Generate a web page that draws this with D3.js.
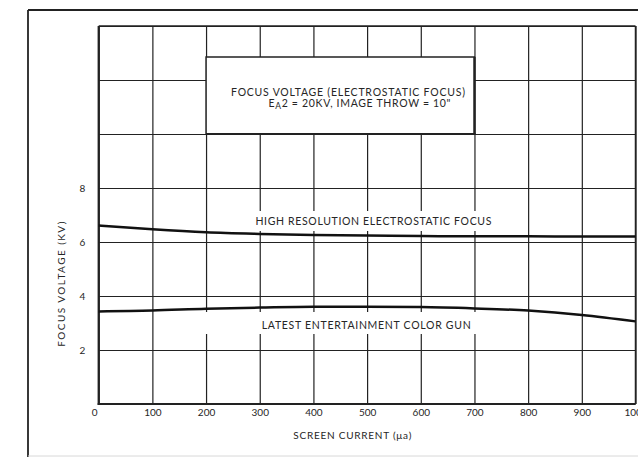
<!DOCTYPE html>
<html><head><meta charset="utf-8">
<script src="https://cdn.jsdelivr.net/npm/d3@7"></script>
<style>
body{margin:0;background:#fff}
svg{display:block}
text{font-family:Lato,"Open Sans",sans-serif;fill:#262626}
</style>
</head><body>
<svg id="c" width="638" height="457"></svg>
<script>
// ---- data ----
const screenCurrent = [0,100,200,300,400,500,600,700,800,900,1000];
const highResFocus  = [6.61,6.47,6.36,6.30,6.26,6.24,6.22,6.21,6.21,6.20,6.20];
const colorGunFocus = [3.43,3.46,3.53,3.57,3.60,3.60,3.59,3.54,3.46,3.30,3.06];
const xTicks = [0,100,200,300,400,500,600,700,800,900,1000];
const yTicks = [0,2,4,6,8,10,12,14];
const yTickLabels = [2,4,6,8];
const titleLine1 = "FOCUS VOLTAGE (ELECTROSTATIC FOCUS)";
const titleLine2a = "E", titleLine2sub = "A", titleLine2b = "2 = 20KV,  IMAGE THROW = 10\"";
const highResLabel = "HIGH RESOLUTION ELECTROSTATIC FOCUS";
const colorGunLabel = "LATEST ENTERTAINMENT COLOR GUN";
const xAxisTitle = "SCREEN CURRENT (\u03bca)";
const yAxisTitle = "FOCUS VOLTAGE (KV)";

// ---- layout ----
const svg = d3.select("#c");
const L = 98.7, R = 635.5, T = 26, B = 404;
const x = d3.scaleLinear().domain([0,1000]).range([L,R]);
const y = d3.scaleLinear().domain([0,14]).range([B,T]);
const ink = "#222";
const FONT = "Lato,'Open Sans',sans-serif";

// outer frame
svg.append("line").attr("x1",28).attr("y1",10).attr("x2",638).attr("y2",10)
  .attr("stroke",ink).attr("stroke-width",1.8);
svg.append("line").attr("x1",28).attr("y1",10).attr("x2",28).attr("y2",457)
  .attr("stroke",ink).attr("stroke-width",1.8);
svg.append("line").attr("x1",28).attr("y1",456).attr("x2",638).attr("y2",456)
  .attr("stroke","#d8d8d8").attr("stroke-width",1);

// grid + tick labels via axes
const xAxis = d3.axisBottom(x).tickValues(xTicks).tickSize(-(B-T)).tickPadding(5)
  .tickFormat(d3.format("d"));
const gx = svg.append("g").attr("transform",`translate(0,${B})`).call(xAxis);
gx.select(".domain").remove();
gx.selectAll("line").attr("stroke",ink).attr("stroke-width",1.2);
gx.selectAll("text").attr("font-size",10).attr("fill","#262626").attr("font-family",FONT);
gx.selectAll("text").filter(d=>d===0).attr("dx",-4.5);

const yAxis = d3.axisLeft(y).tickValues(yTicks).tickSize(-(R-L)).tickPadding(13.5)
  .tickFormat(d => yTickLabels.includes(d) ? d : "");
const gy = svg.append("g").attr("transform",`translate(${L},0)`).call(yAxis);
gy.select(".domain").remove();
gy.selectAll("line").attr("stroke",ink).attr("stroke-width",1.2);
gy.selectAll("text").attr("font-size",10).attr("fill","#262626").attr("font-family",FONT);

// gaps in grid behind curve labels
svg.append("rect").attr("x",250).attr("y",211).attr("width",245).attr("height",20).attr("fill","#fff");
svg.append("rect").attr("x",200).attr("y",312).attr("width",282).attr("height",22).attr("fill","#fff");

// plot frame
svg.append("line").attr("x1",L).attr("y1",T).attr("x2",R).attr("y2",T).attr("stroke",ink).attr("stroke-width",1.5);
svg.append("line").attr("x1",R).attr("y1",T).attr("x2",R).attr("y2",B).attr("stroke",ink).attr("stroke-width",1.5);
svg.append("line").attr("x1",L).attr("y1",T).attr("x2",L).attr("y2",B+1).attr("stroke",ink).attr("stroke-width",2.2);
svg.append("line").attr("x1",L-1).attr("y1",B).attr("x2",R).attr("y2",B).attr("stroke",ink).attr("stroke-width",2.2);

// title box
const bx0 = x(200), bx1 = x(700), by0 = 57, by1 = y(10);
svg.append("rect").attr("x",bx0).attr("y",by0).attr("width",bx1-bx0).attr("height",by1-by0)
  .attr("fill","#fff").attr("stroke",ink).attr("stroke-width",1.5);
svg.append("line").attr("x1",bx0).attr("y1",by1).attr("x2",bx1+1).attr("y2",by1).attr("stroke",ink).attr("stroke-width",2.2);
svg.append("line").attr("x1",bx1).attr("y1",by0).attr("x2",bx1).attr("y2",by1).attr("stroke",ink).attr("stroke-width",2.2);

svg.append("text").attr("x",348).attr("y",95.8).attr("text-anchor","middle")
  .attr("font-size",10.5).attr("textLength",234).attr("lengthAdjust","spacing").text(titleLine1);
const t2 = svg.append("text").attr("x",268.5).attr("y",106.8).attr("font-size",10.5)
  .attr("textLength",182).attr("lengthAdjust","spacing");
t2.append("tspan").text(titleLine2a);
t2.append("tspan").attr("dy",2.5).attr("font-size",8.5).text(titleLine2sub);
t2.append("tspan").attr("dy",-2.5).text(titleLine2b);

// curves
const line = d3.line().x((d,i)=>x(screenCurrent[i])).y(d=>y(d)).curve(d3.curveMonotoneX);
svg.append("path").datum(highResFocus).attr("d",line).attr("fill","none")
  .attr("stroke","#111").attr("stroke-width",2.5);
svg.append("path").datum(colorGunFocus).attr("d",line).attr("fill","none")
  .attr("stroke","#111").attr("stroke-width",2.5);

// curve labels
svg.append("text").attr("x",373.4).attr("y",224.8).attr("text-anchor","middle")
  .attr("font-size",10.5).attr("textLength",236).attr("lengthAdjust","spacing").text(highResLabel);
svg.append("text").attr("x",366.2).attr("y",329.2).attr("text-anchor","middle")
  .attr("font-size",10.5).attr("textLength",209).attr("lengthAdjust","spacing").text(colorGunLabel);

// axis titles
svg.append("text").attr("x",352.3).attr("y",439).attr("text-anchor","middle")
  .attr("font-size",10).attr("textLength",118).attr("lengthAdjust","spacing").text(xAxisTitle);
svg.append("text").attr("transform","translate(65.2,284.2) rotate(-90)").attr("text-anchor","middle")
  .attr("font-size",10).attr("textLength",125).attr("lengthAdjust","spacing").text(yAxisTitle);
</script>
</body></html>
